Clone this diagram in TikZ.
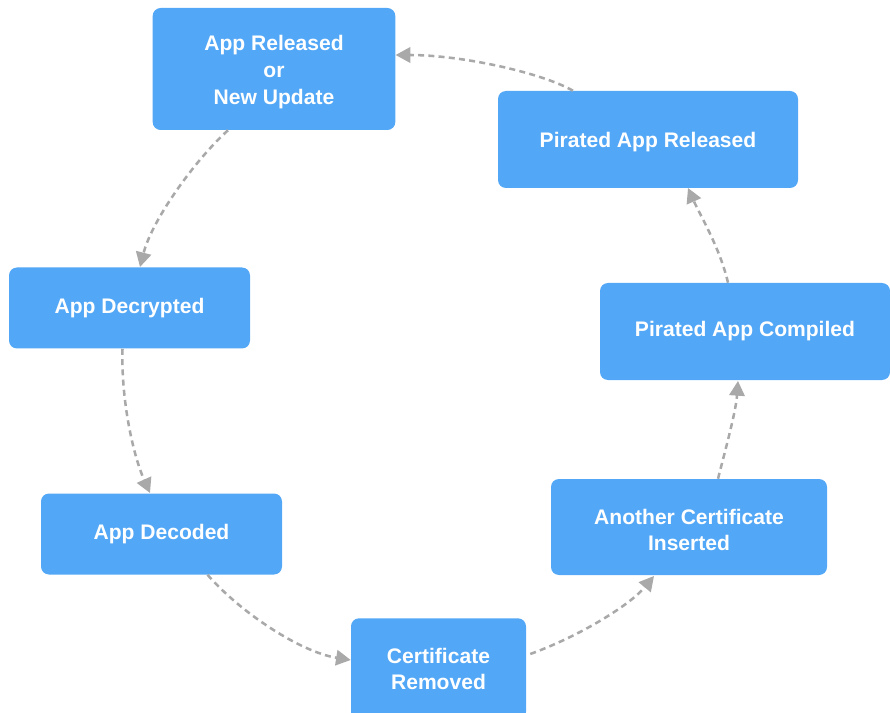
\documentclass[tikz,border=0pt]{standalone}
\usepackage{fontspec}
\setmainfont{Liberation Sans}
\usetikzlibrary{arrows.meta}
\definecolor{boxblue}{HTML}{52A7F6}
\definecolor{conngray}{HTML}{A9A9A9}
\newcommand{\firstup}{\rule{0pt}{16pt}}
\begin{document}
\begin{tikzpicture}[x=0.75pt,y=-0.75pt,
  stage/.style={draw=none,fill=boxblue,rounded corners=6pt,text=white,
    font=\fontsize{15.8pt}{20pt}\selectfont\bfseries,align=center,inner sep=0pt},
  conn/.style={draw=conngray,line width=1.9pt,dash pattern=on 4.5pt off 3.2pt,
    -{Triangle[length=11pt,width=11.5pt]}}]
\useasboundingbox (0,0) rectangle (890,713);
\node[stage,minimum width=182pt,minimum height=91.5pt] (rel) at (274,69) {\firstup App Released\\or\\New Update};
\node[stage,minimum width=225pt,minimum height=72.75pt] (prel) at (648,139.5) {\firstup Pirated App Released};
\node[stage,minimum width=180.75pt,minimum height=60.75pt] (dec) at (129.5,308) {App Decrypted};
\node[stage,minimum width=217.5pt,minimum height=72.75pt] (comp) at (745,331.5) {Pirated App Compiled};
\node[stage,minimum width=180.75pt,minimum height=60.75pt] (cod) at (161.5,534) {App Decoded};
\node[stage,minimum width=207pt,minimum height=72pt] (ins) at (689,527) {\firstup Another Certificate\\Inserted};
\node[stage,minimum width=131.25pt,minimum height=76pt] (rem) at (438.5,669) {Certificate\\Removed};
\draw[conn] (prel.north) ++(-75,0) .. controls (540,72) and (460,55) .. (rel.east |- 0,55);
\draw[conn] (rel.south) ++(-46,0) .. controls (195,160) and (152,220) .. (140,267);
\draw[conn] (dec.south) ++(-7,0) .. controls (121,400) and (133,455) .. (150,493);
\draw[conn] (cod.south) ++(46,0) .. controls (240,612) and (300,652) .. (rem.west |- 0,660);
\draw[conn] (rem.east |- 0,654) ++(4,0) .. controls (580,636) and (630,605) .. (654,576);
\draw[conn] (ins.north) ++(29,0) .. controls (728,440) and (736,410) .. (738,381);
\draw[conn] (comp.north) ++(-17,0) .. controls (720,248) and (700,215) .. (688,188);
\end{tikzpicture}
\end{document}
